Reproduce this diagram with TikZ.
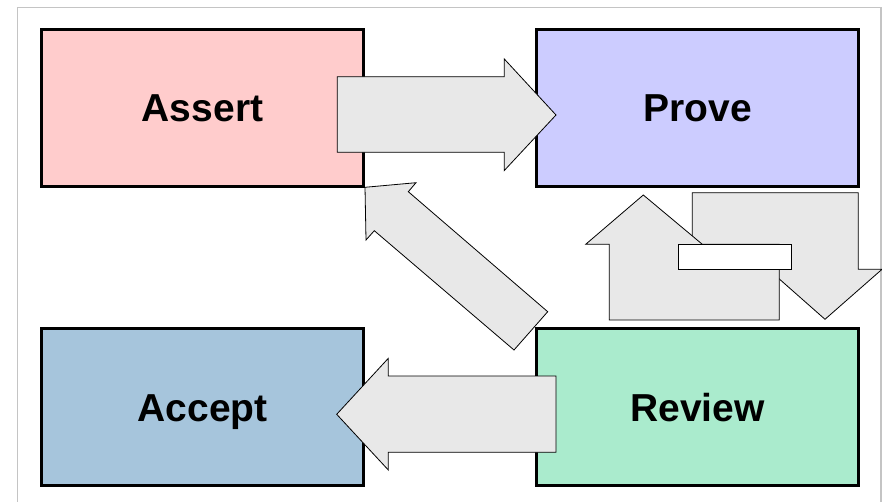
\documentclass[tikz,border=0pt]{standalone}
\usepackage{fontspec}
\setmainfont{Liberation Sans}
\definecolor{assertfill}{HTML}{FFCCCC}
\definecolor{provefill}{HTML}{CCCCFF}
\definecolor{acceptfill}{HTML}{A6C5DC}
\definecolor{reviewfill}{HTML}{AAEBCD}
\definecolor{arrowfill}{HTML}{E8E8E8}
\definecolor{framegray}{HTML}{C4C4C4}
\begin{document}
\begin{tikzpicture}[x=1pt,y=-1pt,
  stage/.style={draw=black, line width=2.2pt, rectangle,
    minimum width=322pt, minimum height=157pt, inner sep=0pt,
    text height=28pt, text depth=0pt,
    font=\fontsize{39}{44}\selectfont\bfseries},
  blockarrow/.style={draw=black, line width=0.8pt, fill=arrowfill, line join=miter},
  gap/.style={draw=black, line width=0.8pt, fill=white}]
  \useasboundingbox (0,0) rectangle (882,502);

  % outer frame
  \draw[framegray, line width=1.5pt] (17.5,520) -- (17.5,7.5) -- (881,7.5) -- (881,520);

  % the four stages
  \node[stage, fill=assertfill] (assert) at (202.5,108) {Assert};
  \node[stage, fill=provefill]  (prove)  at (697.5,108) {Prove};
  \node[stage, fill=acceptfill] (accept) at (202.5,407) {Accept};
  \node[stage, fill=reviewfill] (review) at (697.5,407) {Review};

  % Assert -> Prove
  \draw[blockarrow] (337.3,76.7) -- (504.3,76.7) -- (504.3,59) -- (556,115)
    -- (504.3,170.5) -- (504.3,152.3) -- (337.3,152.3) -- cycle;

  % Review -> Accept
  \draw[blockarrow] (556,376) -- (388.3,376) -- (388.3,358.3) -- (336.7,414.3)
    -- (388.3,470) -- (388.3,452.3) -- (556,452.3) -- cycle;

  % Review -> Assert (diagonal)
  \draw[blockarrow] (547.7,311.7) -- (408.3,191.7) -- (416,182.7) -- (365,187.3)
    -- (366,240) -- (374.3,230.7) -- (514,350) -- cycle;

  % Prove <-> Review pair
  \draw[blockarrow] (692.3,269.3) -- (692.3,192.7) -- (858.3,192.7) -- (858.3,269.3)
    -- (882,269.3) -- (825,319.3) -- (768.3,269.3) -- cycle;
  \draw[blockarrow] (609.3,320) -- (609.3,244.3) -- (585.7,244.3) -- (643.3,195)
    -- (702.3,244.3) -- (779.3,244.3) -- (779.3,320) -- cycle;
  \draw[gap] (678.3,244.3) rectangle (791.7,269.3);
\end{tikzpicture}
\end{document}
